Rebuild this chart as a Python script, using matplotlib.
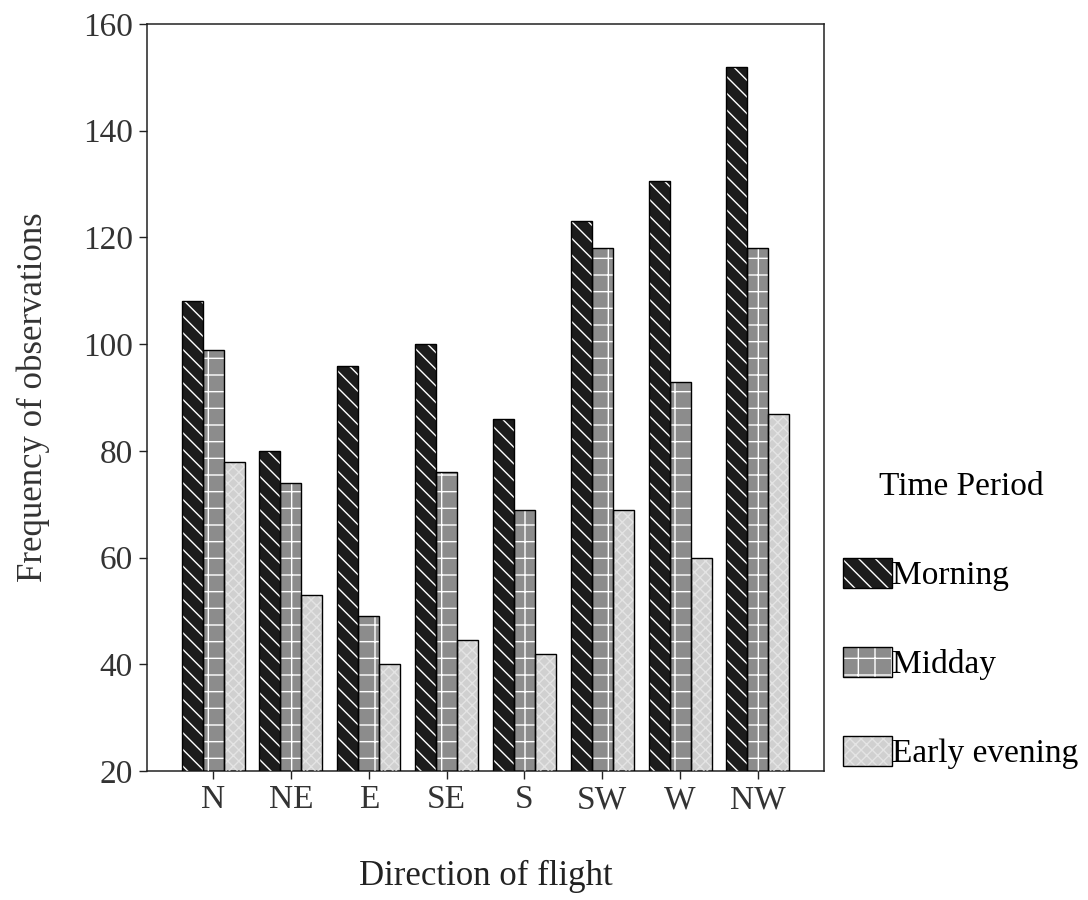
import numpy as np
import matplotlib
matplotlib.use("Agg")
import matplotlib.pyplot as plt
from matplotlib.patches import Patch

plt.rcParams['font.family'] = ['Liberation Serif', 'DejaVu Serif']
plt.rcParams['hatch.linewidth'] = 1.0

# data
directions = ["N", "NE", "E", "SE", "S", "SW", "W", "NW"]
periods = ["Morning", "Midday", "Early evening"]
morning = [108, 80, 96, 100, 86, 123, 130.5, 152]
midday = [99, 74, 49, 76, 69, 118, 93, 118]
early_evening = [78, 53, 40, 44.5, 42, 69, 60, 87]

# fill, hatch colour, hatch pattern per period
styles = [
    ("#1c1c1c", "white", "\\\\"),
    ("#8c8c8c", "white", "+"),
    ("#d0d0d0", "#e4e4e4", "xxx"),
]

fig = plt.figure(figsize=(10.88, 9), dpi=100)
ax = fig.add_axes([0.1351, 0.1433, 0.6223, 0.83])

x = np.arange(len(directions))
width = 0.27
handles = []
for i, (vals, (fc, hc, hatch)) in enumerate(zip([morning, midday, early_evening], styles)):
    pos = x + (i - 1) * width
    h = np.array(vals) - 20
    ax.bar(pos, h, width, bottom=20, color=fc, edgecolor="none", zorder=2)
    ax.bar(pos, h, width, bottom=20, fill=False, edgecolor=hc,
           hatch=hatch, linewidth=0, zorder=3)
    ax.bar(pos, h, width, bottom=20, fill=False, edgecolor="black",
           linewidth=1.0, zorder=4)
    handles.append((Patch(facecolor=fc, edgecolor="none"),
                    Patch(fill=False, edgecolor=hc, hatch=hatch, linewidth=0),
                    Patch(fill=False, edgecolor="black", linewidth=1.0)))

ax.set_xlim(-0.85, 7.85)
ax.set_ylim(20, 160)
ax.set_yticks(np.arange(20, 161, 20))
ax.set_xticks(x)
ax.set_xticklabels(directions)
ax.tick_params(axis="both", labelsize=24, direction="out", length=6, width=1.0,
               pad=4, colors="#222222", labelcolor="#333333")
for s in ax.spines.values():
    s.set_linewidth(1.1)
    s.set_color("#222222")

ax.set_xlabel("Direction of flight", fontsize=25, labelpad=32, color="#222222")
ax.set_ylabel("Frequency of observations", fontsize=25, labelpad=24, color="#333333")

leg = ax.legend(handles, periods, title="Time Period", loc="upper left",
                bbox_to_anchor=(0.775, 0.476), bbox_transform=fig.transFigure,
                frameon=False, fontsize=24, title_fontsize=24, borderpad=0,
                borderaxespad=0, handlelength=1.47, handleheight=1.0,
                handletextpad=0.0, labelspacing=1.67)

plt.savefig("out.png", dpi=100)
